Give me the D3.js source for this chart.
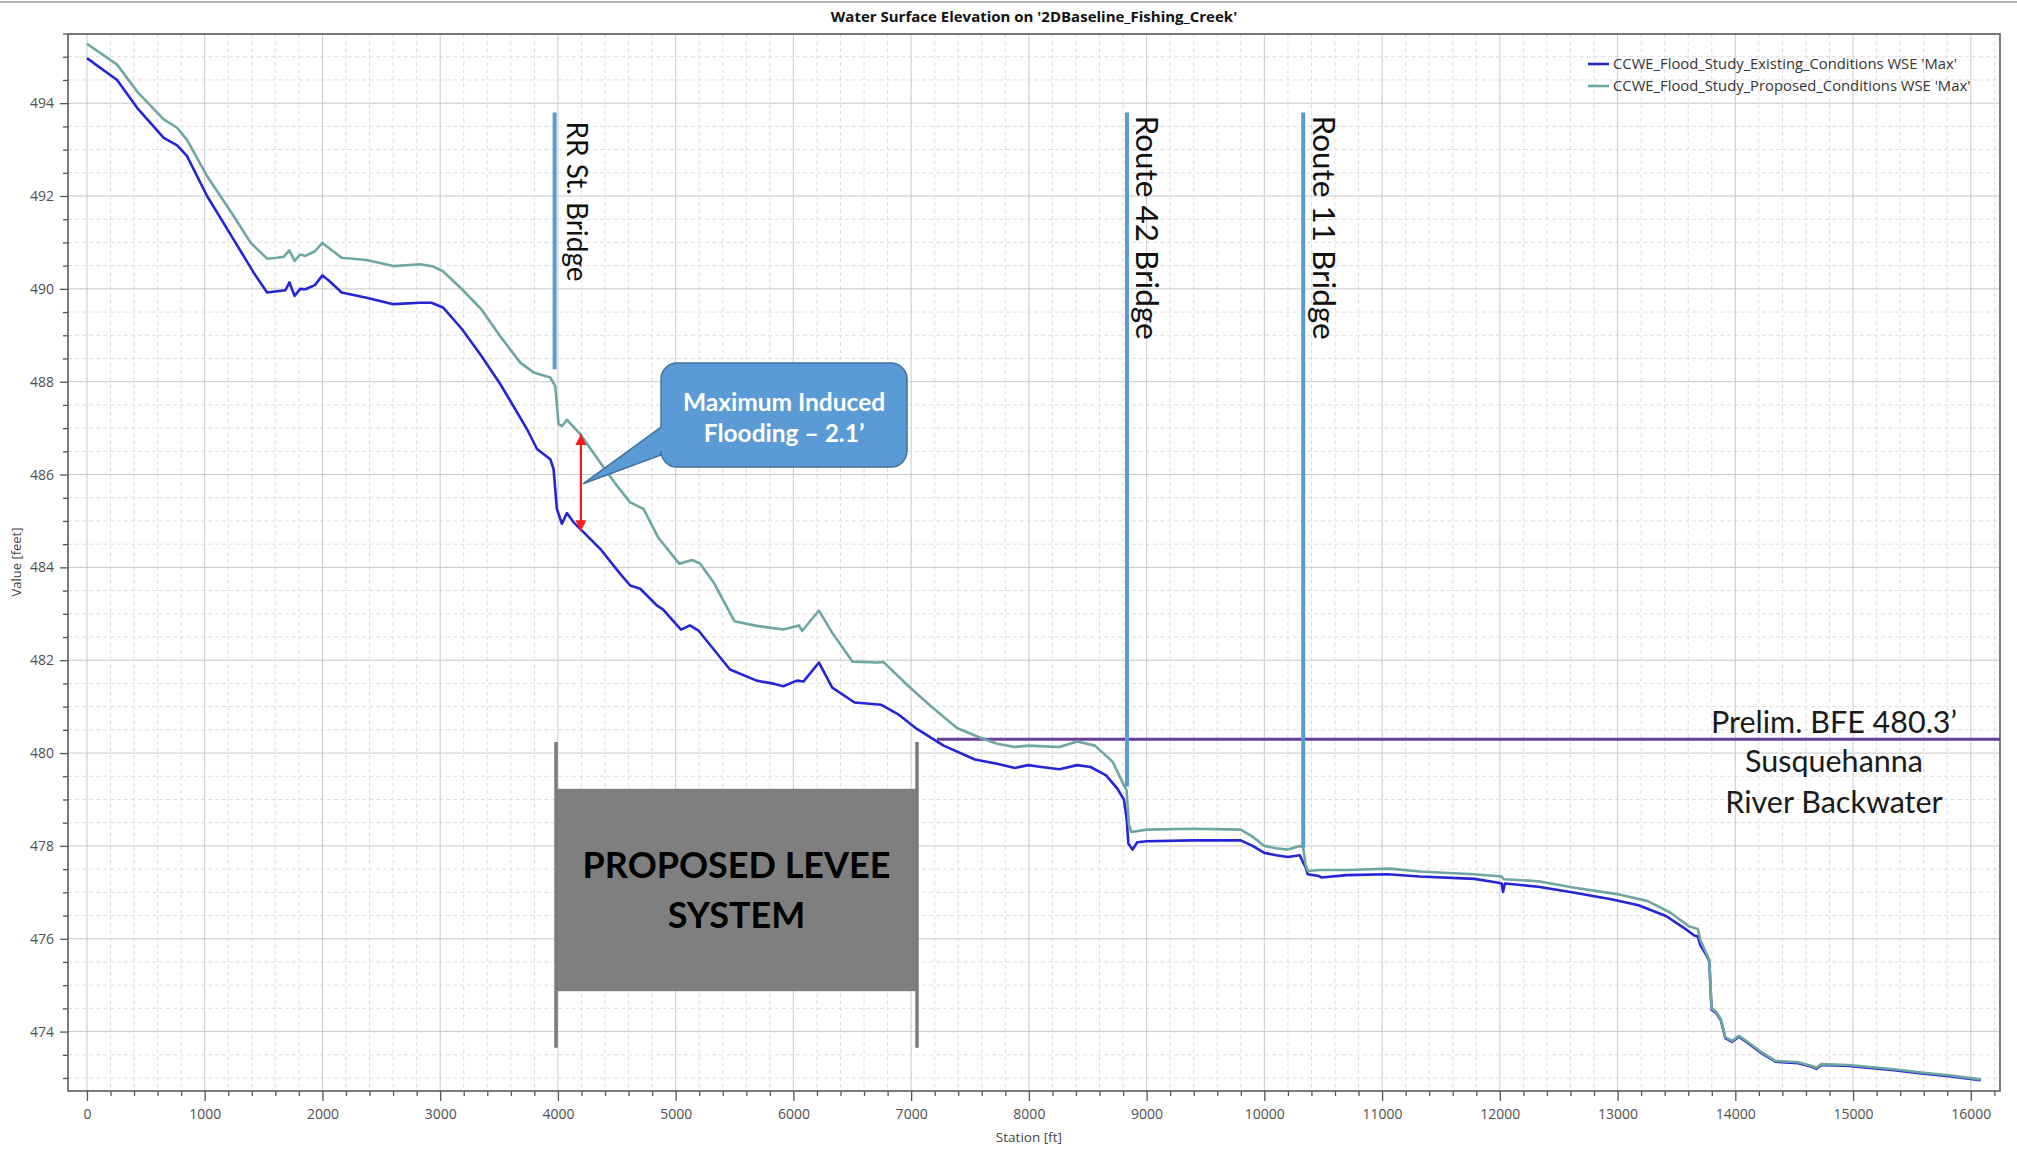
<!DOCTYPE html>
<html><head><meta charset="utf-8">
<script src="https://cdn.jsdelivr.net/npm/d3@7"></script>
<style>
html,body{margin:0;padding:0;background:#fff;}
svg{display:block;}
</style></head>
<body><svg id="chart" width="2017" height="1149"></svg>
<script>
// --- data (station ft, WSE ft) ---
const existingStation = [0,256,426,652,766,850,1020,1246,1416,1530,1614,1685,1720,1763,1812,1855,1936,2000,2049,2163,2374,2602,2829,2925,3024,3186,3349,3510,3595,3737,3822,3935,3963,3991,4034,4076,4133,4217,4359,4529,4614,4699,4840,4894,5045,5121,5197,5461,5688,5839,5915,6029,6085,6217,6330,6520,6747,6898,7049,7276,7541,7730,7881,7994,8108,8259,8410,8524,8656,8750,8807,8830,8845,8880,8920,9000,9400,9800,9900,10000,10100,10200,10300,10330,10349,10368,10465,10484,10698,11047,11318,11783,11977,12015,12027,12043,12326,12636,12946,13178,13411,13566,13651,13682,13702,13760,13779,13798,13837,13876,13915,13973,14031,14109,14225,14341,14535,14651,14690,14729,14961,15349,15581,15814,16085];
const existingWse = [494.97,494.5,493.9,493.25,493.09,492.86,492.0,491.06,490.35,489.92,489.95,489.97,490.14,489.85,490.0,489.99,490.08,490.29,490.19,489.92,489.81,489.67,489.7,489.7,489.6,489.13,488.56,487.95,487.59,486.98,486.55,486.33,486.12,485.26,484.94,485.17,484.97,484.76,484.4,483.86,483.61,483.54,483.18,483.09,482.66,482.75,482.63,481.8,481.56,481.49,481.44,481.56,481.54,481.95,481.41,481.09,481.04,480.82,480.52,480.16,479.86,479.77,479.68,479.74,479.7,479.65,479.74,479.7,479.52,479.24,479.0,478.6,478.05,477.92,478.08,478.1,478.12,478.12,478.0,477.85,477.8,477.76,477.8,477.64,477.55,477.39,477.35,477.32,477.37,477.39,477.34,477.29,477.21,477.19,477.01,477.19,477.12,476.99,476.85,476.72,476.49,476.23,476.07,476.05,475.87,475.62,475.51,474.47,474.4,474.25,473.86,473.78,473.89,473.75,473.53,473.35,473.32,473.24,473.2,473.28,473.26,473.17,473.1,473.04,472.95];

const proposedStation = [0,256,426,652,766,850,1020,1246,1388,1530,1614,1671,1718,1763,1812,1855,1936,2000,2049,2163,2374,2602,2829,2942,3024,3186,3349,3510,3680,3793,3935,3977,4005,4034,4076,4190,4359,4501,4614,4727,4850,5030,5140,5208,5321,5499,5688,5915,6047,6074,6217,6330,6501,6709,6766,6974,7163,7389,7578,7730,7881,7994,8259,8410,8561,8712,8807,8830,8850,8870,9000,9400,9800,9900,10000,10100,10200,10300,10330,10350,10368,10465,10698,11066,11318,11783,12015,12035,12326,12636,13023,13256,13450,13605,13682,13702,13760,13779,13798,13837,13876,13915,13973,14031,14109,14225,14341,14535,14651,14690,14729,14961,15349,15581,15814,16085];
const proposedWse = [495.28,494.83,494.25,493.65,493.47,493.21,492.43,491.57,491.0,490.65,490.67,490.69,490.83,490.6,490.74,490.71,490.81,490.99,490.89,490.67,490.62,490.49,490.53,490.48,490.38,489.99,489.56,488.98,488.41,488.2,488.09,487.91,487.09,487.04,487.18,486.87,486.26,485.76,485.4,485.26,484.65,484.08,484.16,484.08,483.68,482.84,482.74,482.66,482.75,482.63,483.07,482.59,481.97,481.95,481.96,481.45,481.02,480.54,480.34,480.2,480.13,480.16,480.13,480.25,480.16,479.81,479.31,479.2,478.45,478.3,478.35,478.37,478.35,478.2,478.0,477.95,477.92,478.0,477.96,477.6,477.46,477.48,477.48,477.51,477.45,477.39,477.34,477.28,477.24,477.1,476.95,476.81,476.56,476.27,476.21,475.98,475.65,475.54,474.5,474.42,474.27,473.88,473.8,473.91,473.77,473.55,473.37,473.34,473.26,473.22,473.3,473.28,473.19,473.12,473.06,472.97];

const seriesNames = ["CCWE_Flood_Study_Existing_Conditions WSE 'Max'", "CCWE_Flood_Study_Proposed_Conditions WSE 'Max'"];
const seriesColors = ['#2525d6', '#6ea6a2'];

const xTicks = d3.range(0, 16001, 1000);
const yTicks = [474,476,478,480,482,484,486,488,490,492,494];

const bridgeNames = ['RR St. Bridge', 'Route 42 Bridge', 'Route 11 Bridge'];
const bridgeStations = [3972, 8833, 10330];
const bridgeTop = [493.8, 493.8, 493.8];
const bridgeBottom = [488.27, 479.28, 477.96];

const bfeElev = 480.3, bfeFrom = 7220;
const bfeLines = ['Prelim. BFE 480.3\u2019', 'Susquehanna', 'River Backwater'];
const leveeStations = [3984, 7050];
const leveeLines = ['PROPOSED LEVEE', 'SYSTEM'];
const calloutLines = ['Maximum Induced', 'Flooding \u2013 2.1\u2019'];
const arrowStation = 4195, arrowTop = 486.87, arrowBottom = 484.78;

// --- layout ---
const W = 2017, H = 1149;
const plot = { left: 68, right: 2000, top: 34, bottom: 1091 };
const svg = d3.select('#chart');
const x = d3.scaleLinear().domain([-161, 16248]).range([plot.left, plot.right]);
const y = d3.scaleLinear().domain([472.72, 495.49]).range([plot.bottom, plot.top]);
const sans = "'Open Sans', 'Noto Sans', sans-serif";
const cal = "Lato, 'Open Sans', sans-serif";

svg.append('line').attr('x1', 0).attr('x2', W).attr('y1', 2).attr('y2', 2).attr('stroke', '#b4b4b4').attr('stroke-width', 2);

svg.append('text').attr('x', 1034).attr('y', 22).attr('text-anchor', 'middle')
  .attr('font-family', sans).attr('font-weight', 'bold').attr('font-size', 15).attr('fill', '#111')
  .text("Water Surface Elevation on '2DBaseline_Fishing_Creek'");

// grid
const xMinor = d3.range(200, 16201, 200).filter(v => v % 1000 !== 0);
const yMinor = d3.range(473, 495.51, 0.5).filter(v => v % 2 !== 0);
const grid = svg.append('g');
grid.selectAll('line.xm').data(xMinor).join('line').attr('class', 'xm')
  .attr('x1', d => x(d)).attr('x2', d => x(d)).attr('y1', plot.top).attr('y2', plot.bottom)
  .attr('stroke', '#dedede').attr('stroke-dasharray', '4,3');
grid.selectAll('line.ym').data(yMinor).join('line').attr('class', 'ym')
  .attr('y1', d => y(d)).attr('y2', d => y(d)).attr('x1', plot.left).attr('x2', plot.right)
  .attr('stroke', '#dedede').attr('stroke-dasharray', '4,3');
grid.selectAll('line.xM').data(xTicks).join('line').attr('class', 'xM')
  .attr('x1', d => x(d)).attr('x2', d => x(d)).attr('y1', plot.top).attr('y2', plot.bottom)
  .attr('stroke', '#c9c9c9');
grid.selectAll('line.yM').data(yTicks).join('line').attr('class', 'yM')
  .attr('y1', d => y(d)).attr('y2', d => y(d)).attr('x1', plot.left).attr('x2', plot.right)
  .attr('stroke', '#c9c9c9');

// axes
function styleAxis(g) {
  g.select('.domain').remove();
  g.selectAll('line').attr('stroke', '#555').attr('stroke-width', 1.3);
  g.selectAll('text').attr('font-family', sans).attr('font-size', 14).attr('fill', '#505050');
}
svg.append('g').attr('transform', 'translate(0,' + plot.bottom + ')')
  .call(d3.axisBottom(x).tickValues(xMinor).tickSize(5).tickFormat('')).call(styleAxis);
svg.append('g').attr('transform', 'translate(0,' + plot.bottom + ')')
  .call(d3.axisBottom(x).tickValues(xTicks).tickSize(10).tickPadding(8).tickFormat(d3.format('d'))).call(styleAxis);
svg.append('g').attr('transform', 'translate(' + plot.left + ',0)')
  .call(d3.axisLeft(y).tickValues(yMinor).tickSize(5).tickFormat('')).call(styleAxis);
svg.append('g').attr('transform', 'translate(' + plot.left + ',0)')
  .call(d3.axisLeft(y).tickValues(yTicks).tickSize(8).tickPadding(6).tickFormat(d3.format('d'))).call(styleAxis);

svg.append('rect').attr('x', plot.left).attr('y', plot.top)
  .attr('width', plot.right - plot.left).attr('height', plot.bottom - plot.top)
  .attr('fill', 'none').attr('stroke', '#5a5a5a').attr('stroke-width', 1.6);

svg.append('text').attr('x', x(8000)).attr('y', 1142).attr('text-anchor', 'middle')
  .attr('font-family', sans).attr('font-size', 13.5).attr('fill', '#444').text('Station [ft]');
svg.append('text').attr('transform', 'translate(21,562) rotate(-90)').attr('text-anchor', 'middle')
  .attr('font-family', sans).attr('font-size', 13).attr('fill', '#444').text('Value [feet]');

// levee system
const lev = svg.append('g');
lev.append('rect').attr('x', x(leveeStations[0])).attr('y', y(479.23))
  .attr('width', x(leveeStations[1]) - x(leveeStations[0])).attr('height', y(474.87) - y(479.23))
  .attr('fill', '#7f7f7f');
lev.selectAll('line').data(leveeStations).join('line')
  .attr('x1', d => x(d)).attr('x2', d => x(d)).attr('y1', y(480.24)).attr('y2', y(473.65))
  .attr('stroke', '#7a7a7a').attr('stroke-width', 3.5);
const levCx = (x(leveeStations[0]) + x(leveeStations[1])) / 2, levCy = (y(479.23) + y(474.87)) / 2;
lev.selectAll('text').data(leveeLines).join('text')
  .attr('x', levCx).attr('y', (d, i) => levCy + (i - 0.5) * 50).attr('dy', '0.35em')
  .attr('text-anchor', 'middle').attr('font-family', cal).attr('font-weight', 'bold')
  .attr('font-size', 36).attr('fill', '#000').text(d => d);

// BFE line
svg.append('line').attr('x1', x(bfeFrom)).attr('x2', plot.right).attr('y1', y(bfeElev)).attr('y2', y(bfeElev))
  .attr('stroke', '#6a3d96').attr('stroke-width', 3);
svg.selectAll('text.bfe').data(bfeLines).join('text').attr('class', 'bfe')
  .attr('x', 1834).attr('y', (d, i) => [733, 772, 813][i])
  .attr('text-anchor', 'middle').attr('font-family', cal).attr('font-size', 30.5).attr('fill', '#1a1a1a').text(d => d);

// series
const series = [
  { st: existingStation, v: existingWse },
  { st: proposedStation, v: proposedWse }
];
const line = d3.line().x(d => x(d[0])).y(d => y(d[1]));
svg.selectAll('path.series').data(series).join('path').attr('class', 'series')
  .attr('d', s => line(s.st.map((d, i) => [d, s.v[i]])))
  .attr('fill', 'none').attr('stroke', (s, i) => seriesColors[i]).attr('stroke-width', 2.6)
  .attr('stroke-linejoin', 'round');

// bridges
svg.selectAll('line.bridge').data(bridgeStations).join('line').attr('class', 'bridge')
  .attr('x1', d => x(d)).attr('x2', d => x(d))
  .attr('y1', (d, i) => y(bridgeTop[i])).attr('y2', (d, i) => y(bridgeBottom[i]))
  .attr('stroke', '#5b9bd5').attr('stroke-width', 4);
svg.selectAll('text.bridge').data(bridgeNames).join('text').attr('class', 'bridge')
  .attr('transform', (d, i) => 'translate(' + (x(bridgeStations[i]) + [22, 20, 21][i]) + ',' + (y(bridgeTop[i]) + [9, 3, 3][i]) + ') rotate(90)')
  .attr('dy', '0.35em').attr('font-family', cal).attr('font-size', (d, i) => i === 0 ? 28 : 31.5)
  .attr('fill', '#111').text(d => d);

// induced flooding arrow + callout
const defs = svg.append('defs');
['s', 'e'].forEach(function (k) {
  defs.append('marker').attr('id', 'ah' + k).attr('viewBox', '0 0 10 10').attr('refX', 10).attr('refY', 5)
    .attr('markerWidth', 5).attr('markerHeight', 5).attr('markerUnits', 'strokeWidth')
    .attr('orient', k === 's' ? 'auto-start-reverse' : 'auto')
    .append('path').attr('d', 'M0,0 L10,5 L0,10 Z').attr('fill', '#ff1a1a');
});
svg.append('line').attr('x1', x(arrowStation)).attr('x2', x(arrowStation))
  .attr('y1', y(arrowTop)).attr('y2', y(arrowBottom))
  .attr('stroke', '#ff1a1a').attr('stroke-width', 2.2)
  .attr('marker-start', 'url(#ahs)').attr('marker-end', 'url(#ahe)');

const cb = { l: x(4876), r: x(6965), t: y(488.40), b: y(486.16), rad: 16 };
const tip = [x(4213), y(485.8)], tailA = y(487.02), tailB = y(486.42);
const cp = d3.path();
cp.moveTo(cb.l + cb.rad, cb.t); cp.lineTo(cb.r - cb.rad, cb.t);
cp.arcTo(cb.r, cb.t, cb.r, cb.t + cb.rad, cb.rad); cp.lineTo(cb.r, cb.b - cb.rad);
cp.arcTo(cb.r, cb.b, cb.r - cb.rad, cb.b, cb.rad); cp.lineTo(cb.l + cb.rad, cb.b);
cp.arcTo(cb.l, cb.b, cb.l, cb.b - cb.rad, cb.rad); cp.lineTo(cb.l, tailB);
cp.lineTo(tip[0], tip[1]); cp.lineTo(cb.l, tailA); cp.lineTo(cb.l, cb.t + cb.rad);
cp.arcTo(cb.l, cb.t, cb.l + cb.rad, cb.t, cb.rad); cp.closePath();
svg.append('path').attr('d', cp.toString()).attr('fill', '#5b9bd5').attr('stroke', '#41719c').attr('stroke-width', 1.5);
svg.selectAll('text.callout').data(calloutLines).join('text').attr('class', 'callout')
  .attr('x', (cb.l + cb.r) / 2).attr('y', (d, i) => [402, 433][i]).attr('dy', '0.35em')
  .attr('text-anchor', 'middle').attr('font-family', cal).attr('font-weight', 'bold')
  .attr('font-size', 24.5).attr('fill', '#fff').text(d => d);

// legend
const leg = svg.append('g');
seriesNames.forEach(function (name, i) {
  const ly = 64 + i * 22;
  leg.append('line').attr('x1', 1588).attr('x2', 1609).attr('y1', ly).attr('y2', ly)
    .attr('stroke', seriesColors[i]).attr('stroke-width', 2.6);
  leg.append('text').attr('x', 1613).attr('y', ly).attr('dy', '0.35em')
    .attr('font-family', sans).attr('font-size', 14.8).attr('fill', '#333').text(name);
});
</script>
</body></html>
